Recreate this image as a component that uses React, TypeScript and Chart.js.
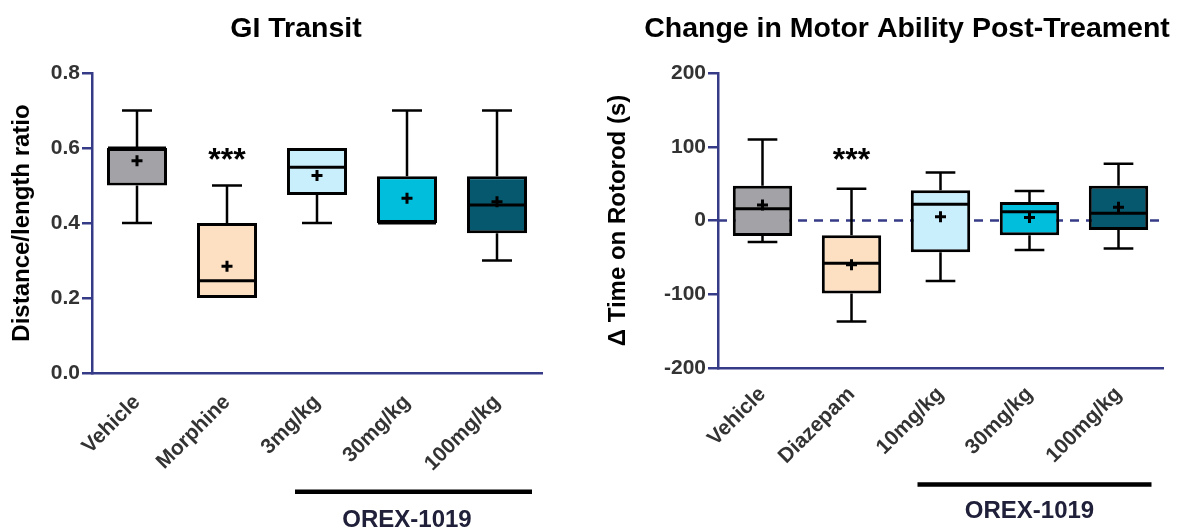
import React, { useEffect, useRef } from 'react';
import { Chart, registerables } from 'chart.js';

Chart.register(...registerables);

const FONT = '"Liberation Sans", Arial, Helvetica, sans-serif';
const NAVY = '#363b87';
const TICK_COLOR = '#333333';

// ---------- GI Transit ----------
const giCategories = ['Vehicle', 'Morphine', '3mg/kg', '30mg/kg', '100mg/kg'];
const giMin = [0.4, 0.2, 0.4, 0.4, 0.3];
const giQ1 = [0.5, 0.2, 0.475, 0.4, 0.373];
const giMedian = [0.6, 0.246, 0.549, 0.4, 0.448];
const giQ3 = [0.6, 0.4, 0.6, 0.525, 0.525];
const giMax = [0.7, 0.5, 0.6, 0.7, 0.7];
const giMean = [0.566, 0.285, 0.527, 0.466, 0.457];
const giTicks = [0, 0.2, 0.4, 0.6, 0.8];
const giSigIndex = 1;
const giSigValue = 0.542;

// ---------- Rotorod ----------
const rrCategories = ['Vehicle', 'Diazepam', '10mg/kg', '30mg/kg', '100mg/kg'];
const rrMin = [-29, -137, -82, -40, -38];
const rrQ1 = [-21, -99, -43, -20, -13];
const rrMedian = [16, -58, 22, 12, 10];
const rrQ3 = [47, -20, 41, 25, 47];
const rrMax = [110, 43, 65, 40, 77];
const rrMean = [21, -60, 5, 4, 18];
const rrTicks = [-200, -100, 0, 100, 200];
const rrSigIndex = 1;
const rrSigValue = 68.5;

const boxColors = ['#a3a2a7', '#fde0c2', '#c9effc', '#00bedc', '#05586e'];

type Cfg = {
  title: string;
  titleX: number;
  yTitle: string;
  yTitlePad: number;
  categories: string[];
  min: number[];
  q1: number[];
  median: number[];
  q3: number[];
  max: number[];
  mean: number[];
  ticks: number[];
  decimals: number;
  sigIndex: number;
  sigValue: number;
  zeroLine: boolean;
  yAxisWidth: number;
  xAxisHeight: number;
  padRight: number;
  labelPad: number;
  groupLeft: number;
  groupRight: number;
  groupBarOffset: number;
  groupTextOffset: number;
};

function makeDecor(c: Cfg) {
  return {
    id: 'boxDecor',
    beforeDatasetsDraw(chart: any) {
      const { ctx, chartArea } = chart;
      const y = chart.scales.y;
      ctx.save();
      if (c.zeroLine) {
        const y0 = y.getPixelForValue(0);
        ctx.strokeStyle = NAVY;
        ctx.lineWidth = 2.5;
        ctx.setLineDash([9, 7]);
        ctx.beginPath();
        ctx.moveTo(chartArea.left, y0);
        ctx.lineTo(chartArea.right, y0);
        ctx.stroke();
        ctx.setLineDash([]);
      }
      const meta = chart.getDatasetMeta(0);
      ctx.strokeStyle = '#000';
      ctx.lineWidth = 2.5;
      meta.data.forEach((el: any, i: number) => {
        const cx = el.x;
        const half = el.width / 4;
        const pMax = y.getPixelForValue(c.max[i]);
        const pQ3 = y.getPixelForValue(c.q3[i]);
        const pQ1 = y.getPixelForValue(c.q1[i]);
        const pMin = y.getPixelForValue(c.min[i]);
        ctx.beginPath();
        if (c.max[i] > c.q3[i]) {
          ctx.moveTo(cx, pQ3);
          ctx.lineTo(cx, pMax);
          ctx.moveTo(cx - half, pMax);
          ctx.lineTo(cx + half, pMax);
        }
        if (c.min[i] < c.q1[i]) {
          ctx.moveTo(cx, pQ1);
          ctx.lineTo(cx, pMin);
          ctx.moveTo(cx - half, pMin);
          ctx.lineTo(cx + half, pMin);
        }
        ctx.stroke();
      });
      ctx.restore();
    },
    afterDatasetsDraw(chart: any) {
      const { ctx } = chart;
      const y = chart.scales.y;
      const meta = chart.getDatasetMeta(0);
      ctx.save();
      ctx.strokeStyle = '#000';
      ctx.lineWidth = 3;
      meta.data.forEach((el: any, i: number) => {
        const pm = y.getPixelForValue(c.median[i]);
        ctx.beginPath();
        ctx.moveTo(el.x - el.width / 2 + 1, pm);
        ctx.lineTo(el.x + el.width / 2 - 1, pm);
        ctx.stroke();
      });
      ctx.restore();
    },
    afterDraw(chart: any) {
      const { ctx, chartArea } = chart;
      const x = chart.scales.x;
      const y = chart.scales.y;
      ctx.save();
      ctx.fillStyle = '#000';
      ctx.font = `bold 28.5px ${FONT}`;
      ctx.textAlign = 'center';
      ctx.textBaseline = 'alphabetic';
      ctx.fillText(c.title, c.titleX, 37);
      ctx.font = `bold 32px ${FONT}`;
      ctx.fillText('***', x.getPixelForValue(c.sigIndex), y.getPixelForValue(c.sigValue));
      const gx0 = x.getPixelForValue(2) - c.groupLeft;
      const gx1 = x.getPixelForValue(4) + c.groupRight;
      ctx.strokeStyle = '#000';
      ctx.lineWidth = 4.5;
      ctx.beginPath();
      ctx.moveTo(gx0, chartArea.bottom + c.groupBarOffset);
      ctx.lineTo(gx1, chartArea.bottom + c.groupBarOffset);
      ctx.stroke();
      ctx.fillStyle = '#20203a';
      ctx.font = `bold 24px ${FONT}`;
      ctx.fillText('OREX-1019', x.getPixelForValue(3), chartArea.bottom + c.groupTextOffset);
      ctx.restore();
    },
  };
}

function BoxChart({ cfg, width, height }: { cfg: Cfg; width: number; height: number }) {
  const ref = useRef<HTMLCanvasElement | null>(null);
  useEffect(() => {
    if (!ref.current) return;
    const c = cfg;
    const chart = new Chart(ref.current, {
      type: 'bar',
      data: {
        labels: c.categories,
        datasets: [
          {
            type: 'bar',
            data: c.q1.map((v, i) => [v, c.q3[i]]) as any,
            backgroundColor: boxColors,
            borderColor: '#000',
            borderWidth: 3,
            borderSkipped: false,
            barPercentage: 0.667,
            categoryPercentage: 1,
            order: 2,
          },
          {
            type: 'line',
            data: c.mean,
            showLine: false,
            pointStyle: 'cross',
            pointRadius: 5.5,
            pointHoverRadius: 5.5,
            pointBorderWidth: 3,
            pointBorderColor: '#000',
            pointBackgroundColor: '#000',
            borderColor: '#000',
            order: 1,
          } as any,
        ],
      },
      options: {
        responsive: false,
        animation: false,
        events: [],
        layout: { padding: { left: 0, right: c.padRight, top: 73, bottom: 0 } },
        plugins: {
          legend: { display: false },
          tooltip: { enabled: false },
          title: { display: false },
        },
        scales: {
          x: {
            type: 'category',
            offset: true,
            grid: { display: false },
            border: { display: true, color: NAVY, width: 2.5 },
            ticks: {
              color: TICK_COLOR,
              font: { family: FONT, size: 21, weight: 'bold' },
              minRotation: 45,
              maxRotation: 45,
              autoSkip: false,
              padding: c.labelPad,
            },
            afterFit: (s: any) => {
              s.height = c.xAxisHeight;
            },
          },
          y: {
            type: 'linear',
            min: c.ticks[0],
            max: c.ticks[c.ticks.length - 1],
            afterBuildTicks: (s: any) => {
              s.ticks = c.ticks.map((v) => ({ value: v }));
            },
            ticks: {
              color: TICK_COLOR,
              font: { family: FONT, size: 21, weight: 'bold' },
              padding: 2,
              callback: (v: any) => Number(v).toFixed(c.decimals),
            },
            grid: {
              drawOnChartArea: false,
              drawTicks: true,
              tickLength: 10,
              color: NAVY,
              lineWidth: 2.5,
            },
            border: { display: true, color: NAVY, width: 2.5 },
            title: {
              display: true,
              text: c.yTitle,
              color: '#000',
              font: { family: FONT, size: 24, weight: 'bold' },
              padding: { top: c.yTitlePad, bottom: 0 },
            },
            afterFit: (s: any) => {
              s.width = c.yAxisWidth;
            },
          },
        },
      } as any,
      plugins: [makeDecor(c)],
    });
    return () => chart.destroy();
  }, [cfg]);
  return <canvas ref={ref} width={width} height={height} style={{ display: 'block' }} />;
}

const giCfg: Cfg = {
  title: 'GI Transit',
  titleX: 296,
  yTitle: 'Distance/length ratio',
  yTitlePad: 7.6,
  categories: giCategories,
  min: giMin,
  q1: giQ1,
  median: giMedian,
  q3: giQ3,
  max: giMax,
  mean: giMean,
  ticks: giTicks,
  decimals: 1,
  sigIndex: giSigIndex,
  sigValue: giSigValue,
  zeroLine: false,
  yAxisWidth: 92,
  xAxisHeight: 156,
  padRight: 48,
  labelPad: 9,
  groupLeft: 22,
  groupRight: 35,
  groupBarOffset: 118.7,
  groupTextOffset: 153.5,
};

const rrCfg: Cfg = {
  title: 'Change in Motor Ability Post-Treament',
  titleX: 317,
  yTitle: '\u0394 Time on Rotorod (s)',
  yTitlePad: 13.6,
  categories: rrCategories,
  min: rrMin,
  q1: rrQ1,
  median: rrMedian,
  q3: rrQ3,
  max: rrMax,
  mean: rrMean,
  ticks: rrTicks,
  decimals: 0,
  sigIndex: rrSigIndex,
  sigValue: rrSigValue,
  zeroLine: true,
  yAxisWidth: 128,
  xAxisHeight: 161,
  padRight: 14,
  labelPad: 6,
  groupLeft: 23,
  groupRight: 33,
  groupBarOffset: 116.5,
  groupTextOffset: 150.3,
};

export default function App() {
  return (
    <div style={{ position: 'fixed', left: 0, top: 0, width: 1177, height: 529, background: '#fff' }}>
      <div style={{ position: 'absolute', left: 0, top: 0 }}>
        <BoxChart cfg={giCfg} width={590} height={529} />
      </div>
      <div style={{ position: 'absolute', left: 590, top: 0 }}>
        <BoxChart cfg={rrCfg} width={587} height={529} />
      </div>
    </div>
  );
}
